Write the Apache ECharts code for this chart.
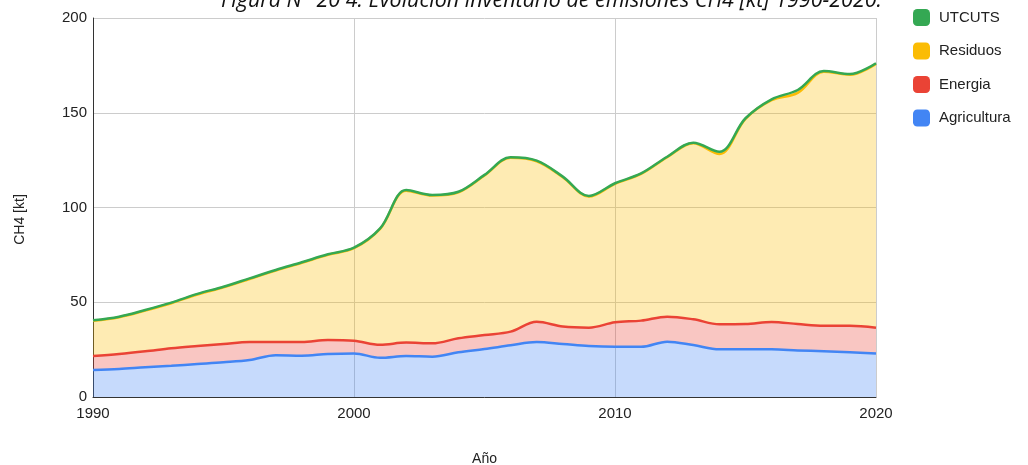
<!DOCTYPE html>
<html>
<head>
<meta charset="utf-8">
<script src="https://cdn.jsdelivr.net/npm/echarts@6/dist/echarts.min.js"></script>
<style>
  html, body { margin: 0; padding: 0; background: #fff; }
  #chart { width: 1028px; height: 465px; }
</style>
</head>
<body>
<div id="chart"></div>
<script>
// CH4 emissions inventory by sector, kt per year
const years = ['1990','1991','1992','1993','1994','1995','1996','1997','1998','1999','2000','2001','2002','2003','2004','2005',
               '2006','2007','2008','2009','2010','2011','2012','2013','2014','2015','2016','2017','2018','2019','2020'];
const agricultura = [14.2,14.8,15.7,16.5,17.4,18.3,19.5,22.0,21.8,22.7,23.0,20.7,21.6,21.3,23.6,25.3,
                     27.3,29.0,28.0,26.9,26.5,26.5,29.2,27.4,25.2,25.2,25.2,24.6,24.1,23.6,23.0];
const energia = [7.4,7.9,8.4,9.2,9.5,9.7,9.5,7.0,7.2,7.4,6.7,6.9,7.1,7.0,7.4,7.4,
                 7.2,10.7,9.2,9.7,12.9,13.8,13.2,13.6,13.2,13.3,14.4,13.9,13.5,14.0,13.6];
const residuos = [18.6,19.4,21.5,23.8,27.2,29.9,33.3,37.7,41.8,44.9,48.8,61.1,80.2,78.0,77.0,84.2,
                  91.7,84.7,78.8,69.2,73.1,77.4,84.1,92.9,89.8,108.3,117.0,122.0,134.1,132.5,139.2];
const utcuts = [0.3,0.3,0.3,0.3,0.3,0.3,0.3,0.3,0.3,0.3,0.3,0.3,0.3,0.3,0.3,0.3,
                0.3,0.3,0.3,0.3,0.3,0.3,0.3,0.3,1.2,0.3,0.5,1.5,0.3,0.3,0.3];
const yTicks = [0, 50, 100, 150, 200];
const xTickLabels = ['1990', '2000', '2010', '2020'];

const FONT = 'Liberation Sans, Arial, sans-serif';

function areaSeries(name, values, color) {
  return {
    name: name,
    type: 'line',
    stack: 'total',
    smooth: 0.35,
    symbol: 'none',
    data: values,
    lineStyle: { color: color, width: 2.5 },
    itemStyle: { color: color },
    areaStyle: { color: color, opacity: 0.3 }
  };
}

const showYear = (idx, value) => xTickLabels.indexOf(value) !== -1;

const chart = echarts.init(document.getElementById('chart'), null, { renderer: 'canvas' });
chart.setOption({
  animation: false,
  backgroundColor: '#ffffff',
  title: {
    text: 'Figura N° 20 4: Evolución inventario de emisiones CH4 [kt] 1990-2020.',
    right: 141,
    top: -15,
    textStyle: { fontFamily: 'Open Sans', fontStyle: 'italic', fontWeight: 'normal', fontSize: 21.5, color: '#111' }
  },
  legend: {
    orient: 'vertical',
    left: 908,
    top: 4,
    itemWidth: 17,
    itemHeight: 17,
    itemGap: 16.5,
    icon: 'roundRect',
    data: ['UTCUTS', 'Residuos', 'Energia', 'Agricultura'],
    textStyle: { fontFamily: FONT, fontSize: 15, color: '#222', padding: [0, 0, 0, 4] }
  },
  grid: { left: 93, right: 152, top: 18, bottom: 68, containLabel: false, outerBoundsMode: 'none' },
  xAxis: {
    type: 'category',
    data: years,
    boundaryGap: false,
    name: 'Año',
    nameLocation: 'middle',
    nameGap: 55,
    nameTextStyle: { fontFamily: FONT, fontSize: 14, color: '#222' },
    axisLine: { show: true, lineStyle: { color: '#333', width: 1 } },
    axisTick: { show: false },
    axisLabel: { interval: showYear, fontFamily: FONT, fontSize: 15, color: '#222', margin: 9 },
    splitLine: { show: true, interval: showYear, lineStyle: { color: '#cccccc', width: 1 } }
  },
  yAxis: {
    type: 'value',
    min: yTicks[0],
    max: yTicks[yTicks.length - 1],
    interval: 50,
    name: 'CH4 [kt]',
    nameLocation: 'middle',
    nameGap: 66,
    nameTextStyle: { fontFamily: FONT, fontSize: 14, color: '#222', padding: [0, 24, 0, 0] },
    axisLine: { show: true, lineStyle: { color: '#333', width: 1 } },
    axisTick: { show: false },
    axisLabel: { fontFamily: FONT, fontSize: 15, color: '#222', margin: 6 },
    splitLine: { show: true, lineStyle: { color: '#cccccc', width: 1 } }
  },
  series: [
    areaSeries('Agricultura', agricultura, '#4285F4'),
    areaSeries('Energia', energia, '#EA4335'),
    areaSeries('Residuos', residuos, '#FBBC04'),
    areaSeries('UTCUTS', utcuts, '#34A853')
  ]
});
</script>
</body>
</html>
